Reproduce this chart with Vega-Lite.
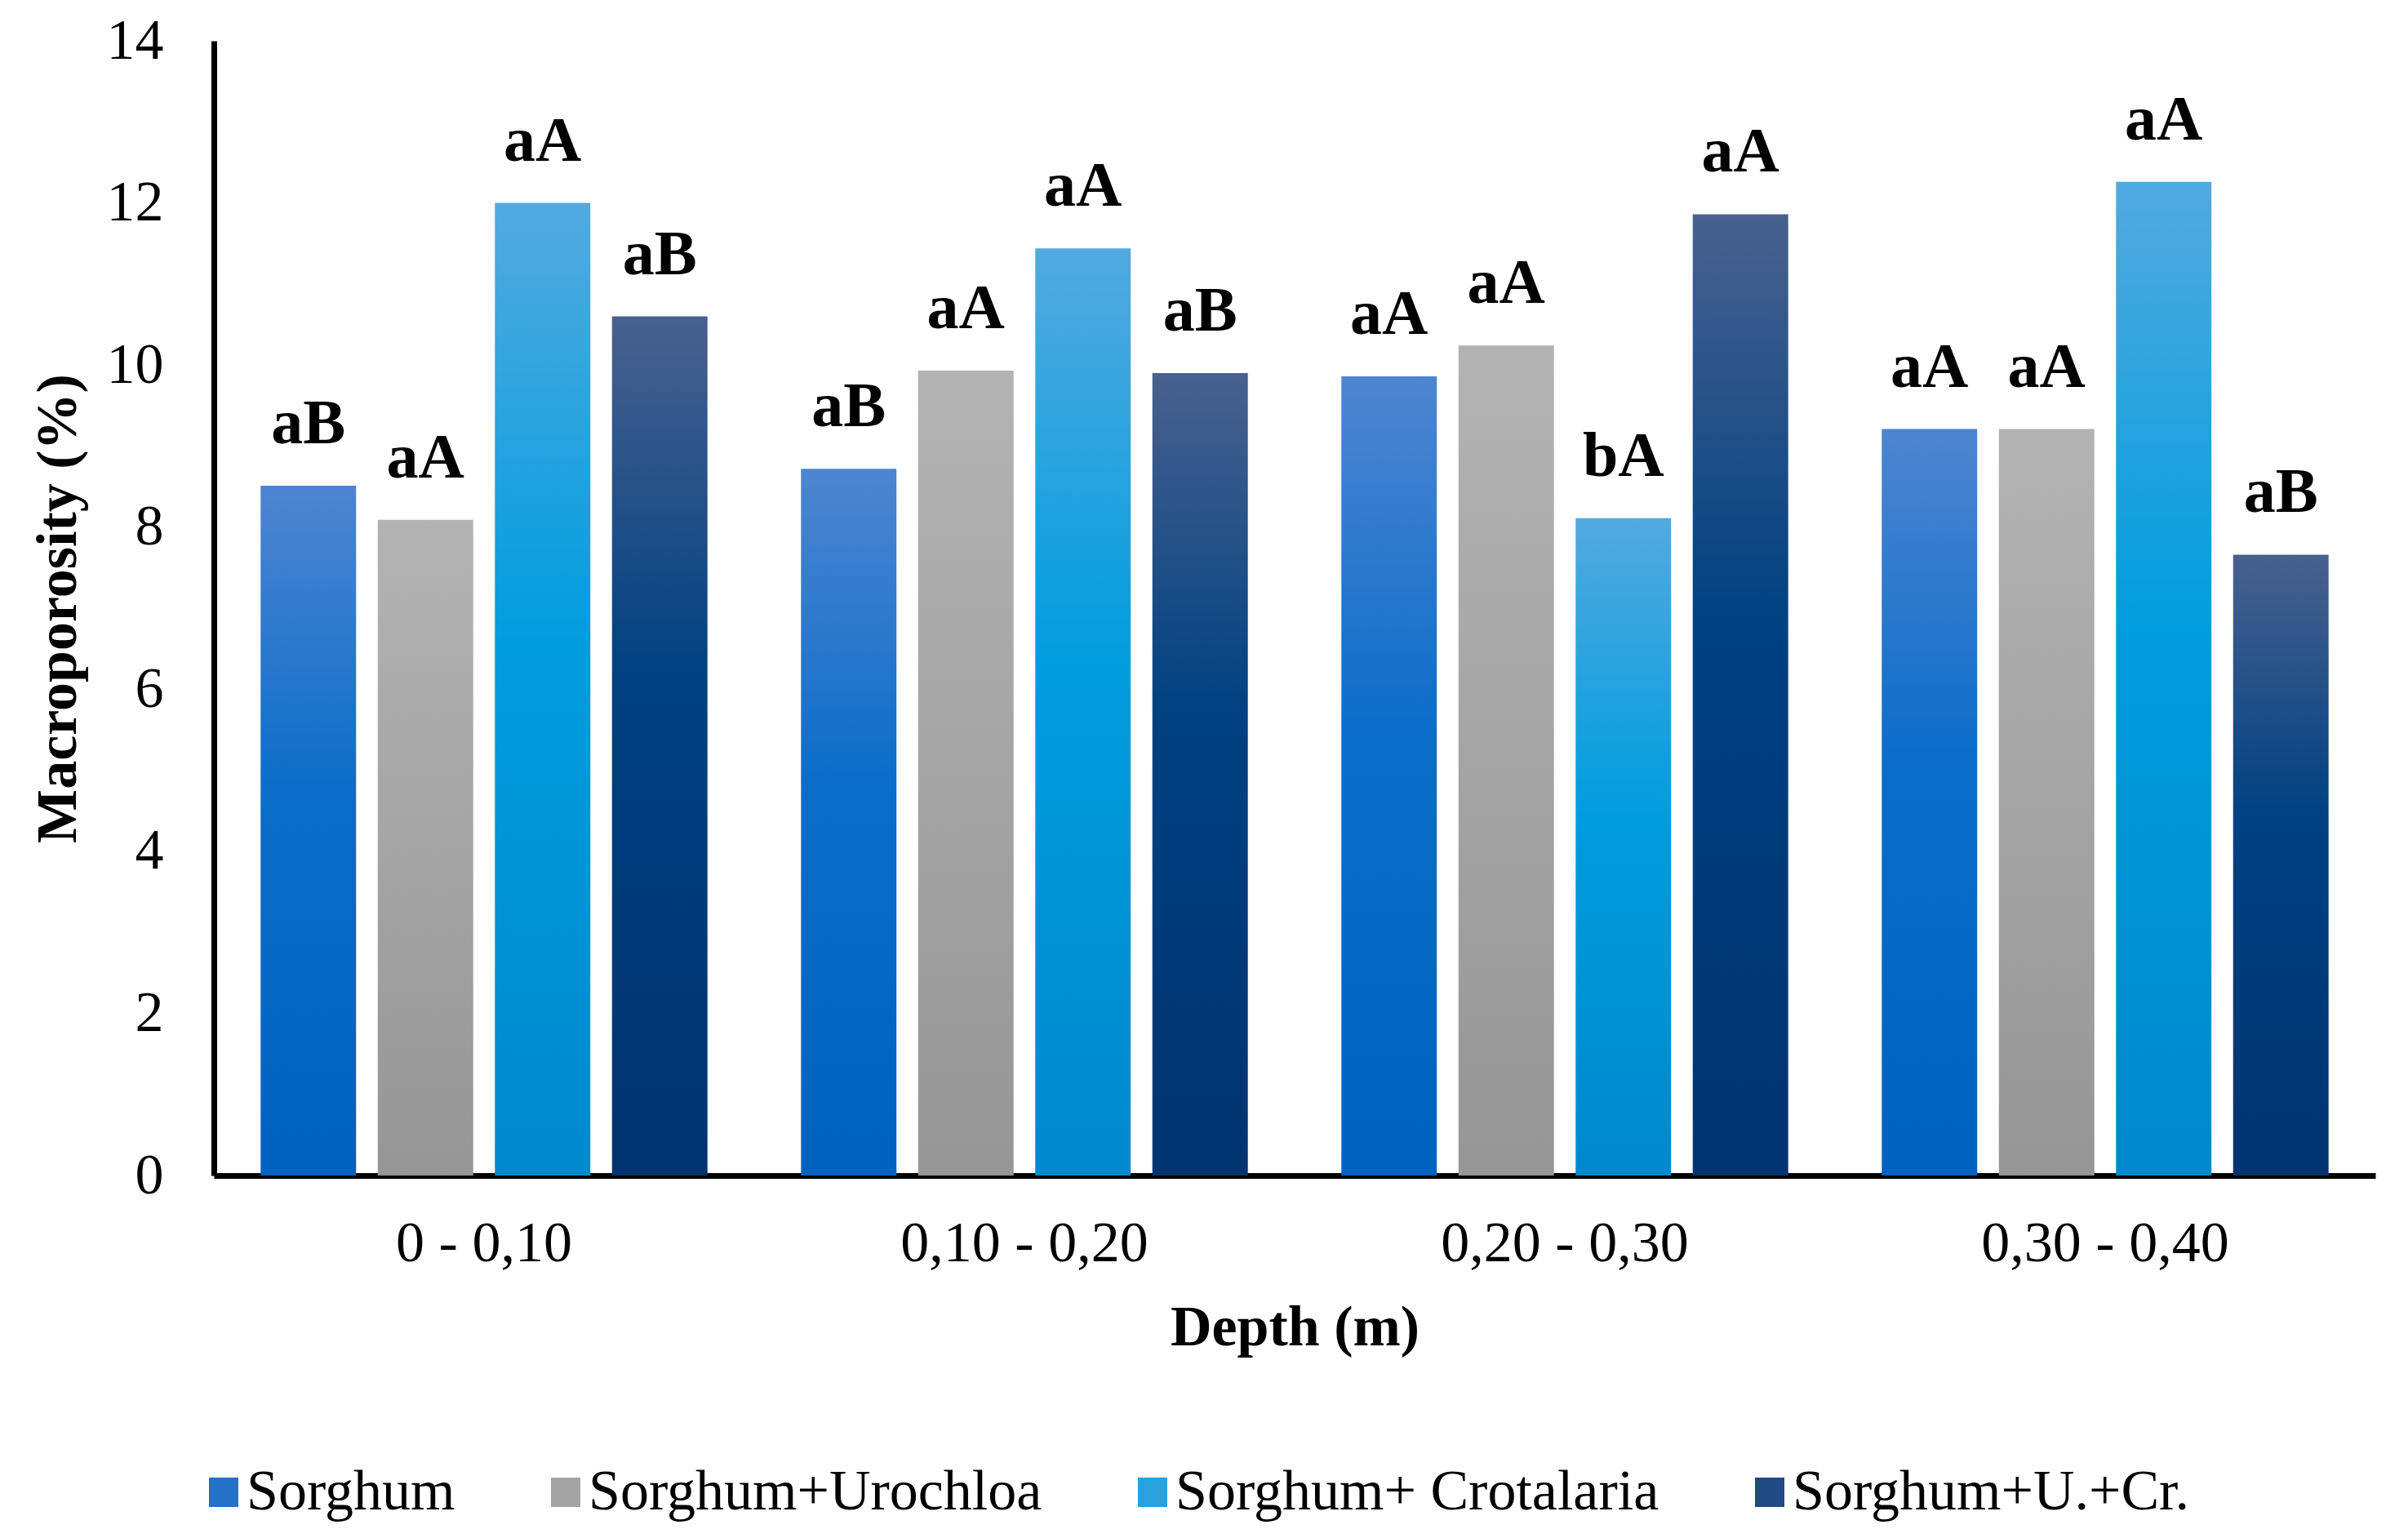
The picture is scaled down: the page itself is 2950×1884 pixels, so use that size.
{
  "$schema": "https://vega.github.io/schema/vega-lite/v6.json",
  "width": 2648,
  "height": 1390,
  "autosize": {"type": "none"},
  "padding": {"left": 262, "top": 50, "right": 40, "bottom": 444},
  "background": "white",
  "config": {
    "view": {"stroke": null},
    "font": "Liberation Serif"
  },
  "data": {
    "values": [
      {"depth": "0 - 0,10", "series": "Sorghum", "value": 8.51, "label": "aB"},
      {"depth": "0 - 0,10", "series": "Sorghum+Urochloa", "value": 8.09, "label": "aA"},
      {"depth": "0 - 0,10", "series": "Sorghum+ Crotalaria", "value": 12.0, "label": "aA"},
      {"depth": "0 - 0,10", "series": "Sorghum+U.+Cr.", "value": 10.6, "label": "aB"},
      {"depth": "0,10 - 0,20", "series": "Sorghum", "value": 8.72, "label": "aB"},
      {"depth": "0,10 - 0,20", "series": "Sorghum+Urochloa", "value": 9.93, "label": "aA"},
      {"depth": "0,10 - 0,20", "series": "Sorghum+ Crotalaria", "value": 11.44, "label": "aA"},
      {"depth": "0,10 - 0,20", "series": "Sorghum+U.+Cr.", "value": 9.9, "label": "aB"},
      {"depth": "0,20 - 0,30", "series": "Sorghum", "value": 9.86, "label": "aA"},
      {"depth": "0,20 - 0,30", "series": "Sorghum+Urochloa", "value": 10.24, "label": "aA"},
      {"depth": "0,20 - 0,30", "series": "Sorghum+ Crotalaria", "value": 8.11, "label": "bA"},
      {"depth": "0,20 - 0,30", "series": "Sorghum+U.+Cr.", "value": 11.86, "label": "aA"},
      {"depth": "0,30 - 0,40", "series": "Sorghum", "value": 9.21, "label": "aA"},
      {"depth": "0,30 - 0,40", "series": "Sorghum+Urochloa", "value": 9.21, "label": "aA"},
      {"depth": "0,30 - 0,40", "series": "Sorghum+ Crotalaria", "value": 12.26, "label": "aA"},
      {"depth": "0,30 - 0,40", "series": "Sorghum+U.+Cr.", "value": 7.66, "label": "aB"}
    ]
  },
  "encoding": {
    "x": {
      "field": "depth",
      "type": "nominal",
      "sort": ["0 - 0,10", "0,10 - 0,20", "0,20 - 0,30", "0,30 - 0,40"],
      "scale": {"paddingInner": 0.133, "paddingOuter": 0.0665},
      "axis": {
        "title": "Depth (m)",
        "titleFont": "Liberation Serif",
        "titleFontSize": 70,
        "titleFontWeight": "bold",
        "titleColor": "black",
        "titlePadding": 34,
        "labelAngle": 0,
        "labelFont": "Liberation Serif",
        "labelFontSize": 70,
        "labelColor": "black",
        "labelPadding": 49,
        "labelLimit": 1000,
        "ticks": false,
        "tickSize": 0,
        "grid": false,
        "domainColor": "black",
        "domainWidth": 7
      }
    },
    "xOffset": {
      "field": "series",
      "type": "nominal",
      "sort": ["Sorghum", "Sorghum+Urochloa", "Sorghum+ Crotalaria", "Sorghum+U.+Cr."],
      "scale": {"paddingInner": 0.185, "paddingOuter": 0.0925}
    },
    "y": {
      "field": "value",
      "type": "quantitative",
      "scale": {"domain": [0, 14], "nice": false},
      "axis": {
        "title": "Macroporosity (%)",
        "titleFont": "Liberation Serif",
        "titleFontSize": 70,
        "titleFontWeight": "bold",
        "titleColor": "black",
        "titlePadding": 23,
        "values": [0, 2, 4, 6, 8, 10, 12, 14],
        "labelFont": "Liberation Serif",
        "labelFontSize": 70,
        "labelColor": "black",
        "labelPadding": 62,
        "ticks": false,
        "tickSize": 0,
        "grid": false,
        "domainColor": "black",
        "domainWidth": 7
      }
    }
  },
  "layer": [
    {
      "mark": {"type": "bar", "opacity": 0},
      "encoding": {
        "color": {
          "field": "series",
          "type": "nominal",
          "sort": ["Sorghum", "Sorghum+Urochloa", "Sorghum+ Crotalaria", "Sorghum+U.+Cr."],
          "scale": {
            "domain": ["Sorghum", "Sorghum+Urochloa", "Sorghum+ Crotalaria", "Sorghum+U.+Cr."],
            "range": ["#2670C6", "#A4A4A4", "#2AA0DC", "#1F4A83"]
          },
          "legend": {
            "title": null,
            "orient": "none",
            "legendX": -23,
            "legendY": 1743,
            "direction": "horizontal",
            "symbolType": "square",
            "symbolSize": 1296,
            "symbolStrokeWidth": 0,
            "symbolOpacity": 1,
            "labelFont": "Liberation Serif",
            "labelFontSize": 70,
            "labelColor": "black",
            "labelOffset": -7,
            "columnPadding": 100,
            "padding": 0,
            "labelLimit": 1000
          }
        }
      }
    },
    {
      "transform": [{"filter": "datum.series === 'Sorghum'"}],
      "mark": {"type": "bar", "color": {"gradient": "linear", "x1": 0, "y1": 0, "x2": 0, "y2": 1, "stops": [{"offset": 0, "color": "#4E85D0"}, {"offset": 0.45, "color": "#0A6DC9"}, {"offset": 1, "color": "#0062BF"}]}}
    },
    {
      "transform": [{"filter": "datum.series === 'Sorghum+Urochloa'"}],
      "mark": {"type": "bar", "color": {"gradient": "linear", "x1": 0, "y1": 0, "x2": 0, "y2": 1, "stops": [{"offset": 0, "color": "#B3B3B3"}, {"offset": 1, "color": "#969696"}]}}
    },
    {
      "transform": [{"filter": "datum.series === 'Sorghum+ Crotalaria'"}],
      "mark": {"type": "bar", "color": {"gradient": "linear", "x1": 0, "y1": 0, "x2": 0, "y2": 1, "stops": [{"offset": 0, "color": "#52AADF"}, {"offset": 0.45, "color": "#009DDE"}, {"offset": 1, "color": "#0089CC"}]}}
    },
    {
      "transform": [{"filter": "datum.series === 'Sorghum+U.+Cr.'"}],
      "mark": {"type": "bar", "color": {"gradient": "linear", "x1": 0, "y1": 0, "x2": 0, "y2": 1, "stops": [{"offset": 0, "color": "#48618E"}, {"offset": 0.42, "color": "#004181"}, {"offset": 1, "color": "#003370"}]}}
    },
    {
      "mark": {
        "type": "text",
        "font": "Liberation Serif",
        "fontSize": 78,
        "fontWeight": "bold",
        "color": "black",
        "baseline": "alphabetic",
        "align": "center",
        "dy": -52
      },
      "encoding": {
        "text": {"field": "label", "type": "nominal"}
      }
    }
  ]
}
